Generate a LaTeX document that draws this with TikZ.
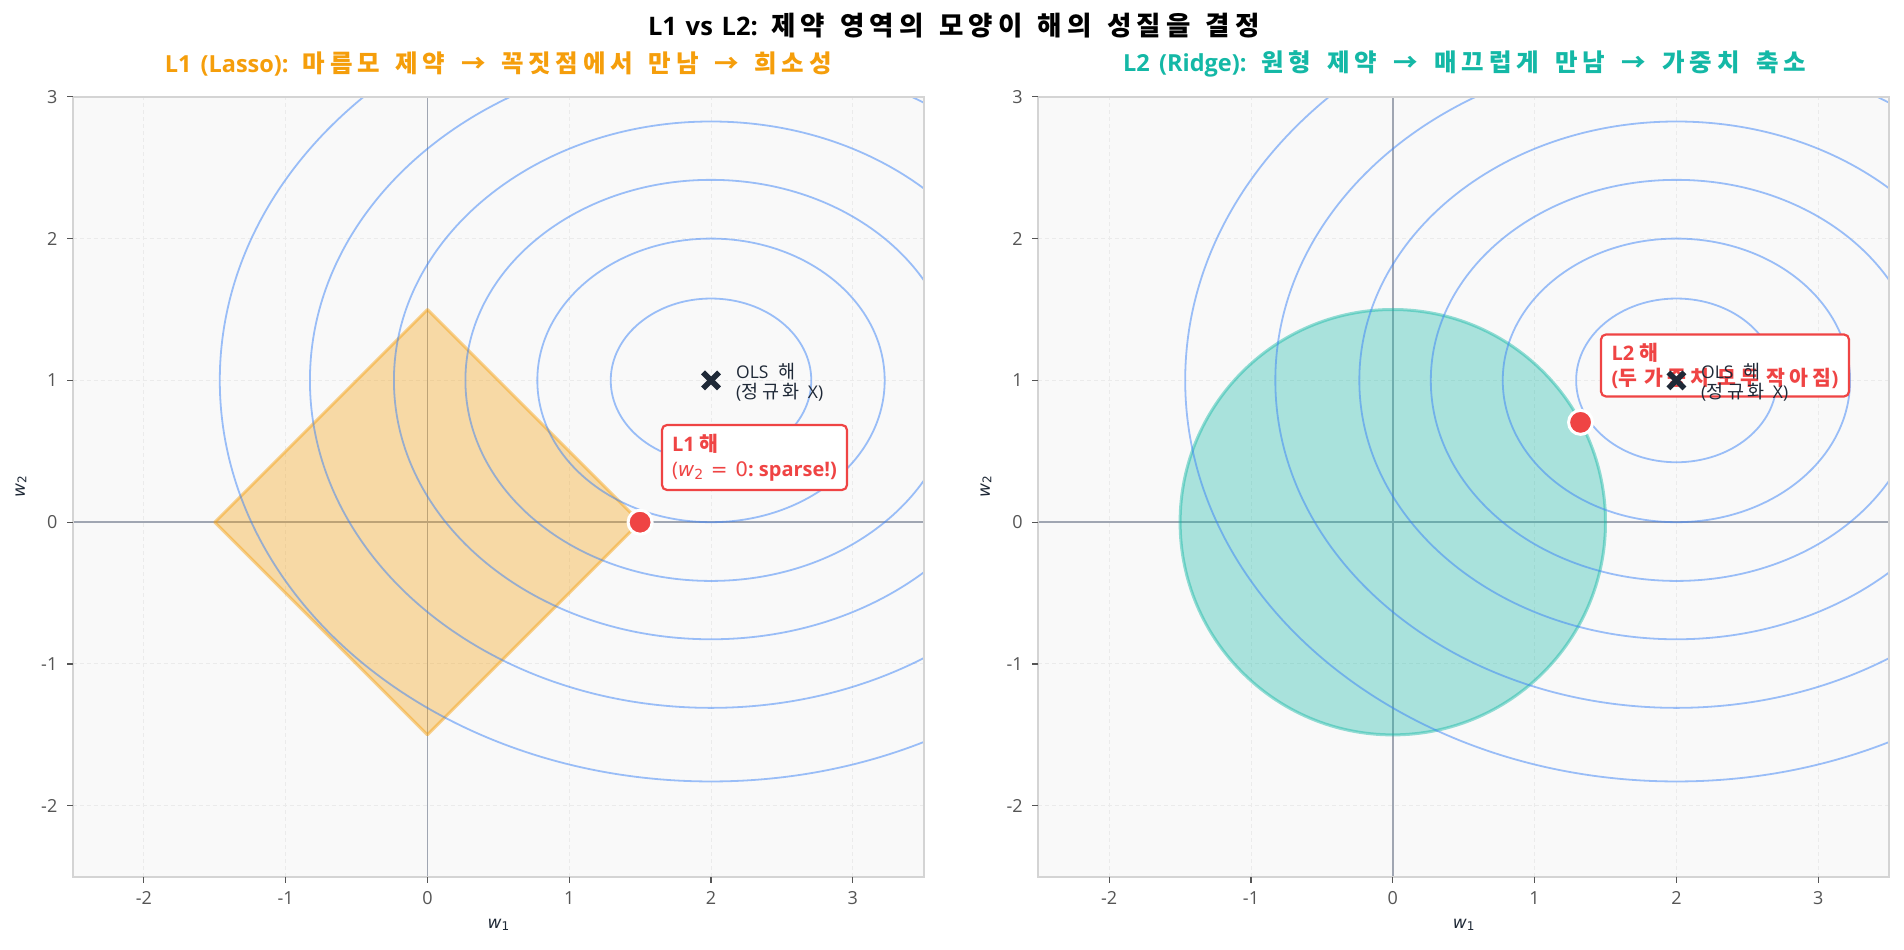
\documentclass[tikz,border=0pt]{standalone}
\usepackage{fontspec}
\setmainfont{Open Sans}
\newfontfamily\kr{Noto Sans CJK KR}[LetterSpace=20]
\newfontfamily\dvs{DejaVu Sans}
\usetikzlibrary{calc}
\definecolor{bgc}{HTML}{F9F9F9}
\definecolor{spinec}{HTML}{D4D4D4}
\definecolor{gridc}{HTML}{EBEBEB}
\definecolor{zeroc}{HTML}{A0A6B2}
\definecolor{contc}{HTML}{3B82F6}
\definecolor{orangec}{HTML}{F59E0B}
\definecolor{tealc}{HTML}{14B8A6}
\definecolor{redc}{HTML}{EF4444}
\definecolor{navyc}{HTML}{1F2937}
\definecolor{tickc}{HTML}{555555}
\newcommand\wsub[3]{{\dvs\fontsize{#2}{#2}\selectfont\itshape w\/}\raisebox{-0.3ex}{\dvs\fontsize{#3}{#3}\selectfont #1}}
\newcommand\fitw[2]{\makebox[#1][s]{#2}}
\newcommand\krs[2]{{\kr\fontsize{#1}{#1}\selectfont #2}}
\newcommand\sgap{\hspace{2pt plus 1fil}}
\begin{document}
\begin{tikzpicture}[x=1pt,y=1pt,
  gridline/.style={draw=gridc, line width=1pt, dash pattern=on 4pt off 3pt},
  zeroline/.style={draw=zeroc, line width=1.6pt},
  contour/.style={draw=contc, draw opacity=0.5, line width=1.8pt},
  spine/.style={draw=spinec, line width=1.8pt},
  tickmark/.style={draw=tickc, line width=1.2pt},
  ticklabel/.style={text=tickc, font=\fontsize{18}{20}\selectfont, inner sep=0pt},
  axlabel/.style={text=navyc, inner sep=0pt},
  soldot/.style={circle, fill=redc, draw=white, line width=3pt, minimum size=24pt, inner sep=0pt},
  annbox/.style={draw=redc, line width=2.2pt, fill=white, rounded corners=5pt, align=left, text=redc,
     font=\fontsize{20}{25}\selectfont\bfseries, inner xsep=6pt, inner ysep=4pt},
  olstext/.style={text=navyc, align=left, font=\fontsize{17.5}{20.5}\selectfont, inner sep=0pt, anchor=west},
  subtitle/.style={font=\fontsize{23.5}{28}\selectfont\bfseries, inner sep=0pt}
]
\useasboundingbox (0,0) rectangle (1904,950);
\fill[white] (0,0) rectangle (1904,950);

% title
\node[font=\fontsize{25.5}{30}\selectfont\bfseries, text=black, inner sep=0pt] (title) at (954,924)
  {\fitw{612pt}{L1 vs L2: \krs{26.5}{제약 영역의 모양이 해의 성질을 결정}}};
\node[subtitle, text=orangec] (subL) at (498.4,886)
  {\fitw{667pt}{L1 (Lasso): \krs{24.5}{마름모 제약 → 꼭짓점에서 만남 → 희소성}}};
\node[subtitle, text=tealc] (subR) at (1464.5,886)
  {\fitw{683pt}{L2 (Ridge): \krs{24.5}{원형 제약 → 매끄럽게 만남 → 가중치 축소}}};

% common axes parts
\foreach \ox/\nm in {427.4/L,1392.8/R}{
\begin{scope}[shift={(\ox,427.8)}, x=141.8pt, y=141.8pt]
  \fill[bgc] (-2.5,-2.5) rectangle (3.5,3);
  \foreach \g in {-2,...,3}{
    \draw[gridline] (\g,-2.5) -- (\g,3);
    \draw[gridline] (-2.5,\g) -- (3.5,\g);
  }
  \draw[zeroline] (0,-2.5) -- (0,3);
  \draw[zeroline] (-2.5,0) -- (3.5,0);
\end{scope}
}

% ---------- left panel ----------
\begin{scope}[shift={(427.4,427.8)}, x=141.8pt, y=141.8pt]
  \filldraw[fill=orangec, fill opacity=0.35, draw=orangec, draw opacity=0.45, line width=3pt, line join=round]
     (1.5,0) -- (0,1.5) -- (-1.5,0) -- (0,-1.5) -- cycle;
  \begin{scope}
    \clip (-2.5,-2.5) rectangle (3.5,3);
    \foreach \lv in {0.5,1.5,3,5,8,12}
      \draw[contour] (2,1) ellipse [x radius={sqrt(\lv)}, y radius={sqrt(\lv/1.5)}];
  \end{scope}
  \draw[spine] (-2.5,-2.5) rectangle (3.5,3);
  \foreach \t in {-2,...,3}{
    \draw[tickmark] (\t,-2.5) -- ++(0,-6pt) node[ticklabel, below=8pt] (xtL\t) {\t};
    \draw[tickmark] (-2.5,\t) -- ++(-6pt,0) node[ticklabel, left=9pt] (ytL\t) {\t};
  }
  \coordinate (olsL) at (2,1);
  \draw[navyc, line width=5.5pt] ($(olsL)+(-8pt,-8pt)$) -- ($(olsL)+(8pt,8pt)$);
  \draw[navyc, line width=5.5pt] ($(olsL)+(-8pt,8pt)$) -- ($(olsL)+(8pt,-8pt)$);
  \node[soldot] (l1dot) at (1.5,0) {};
\end{scope}
\node[olstext] (olsLtxt) at (736,568) {\fitw{59pt}{OLS \krs{18.5}{해}}\\\fitw{87pt}{(\krs{18.5}{정규화} X)}};
\node[annbox, minimum width=185pt, minimum height=65pt] (l1box) at (754.5,492.5)
  {L1 \krs{20.5}{해}\\\fitw{165pt}{\textmd{(\wsub{2}{20}{14}\sgap{\dvs\fontsize{20}{25}\selectfont=}\sgap{\dvs\fontsize{20}{25}\selectfont 0}}:~sparse!)}};

% ---------- right panel ----------
\begin{scope}[shift={(1392.8,427.8)}, x=141.8pt, y=141.8pt]
  \filldraw[fill=tealc, fill opacity=0.35, draw=tealc, draw opacity=0.45, line width=3pt]
     (0,0) circle [radius=1.5];
  \begin{scope}
    \clip (-2.5,-2.5) rectangle (3.5,3);
    \foreach \lv in {0.5,1.5,3,5,8,12}
      \draw[contour] (2,1) ellipse [x radius={sqrt(\lv)}, y radius={sqrt(\lv/1.5)}];
  \end{scope}
  \draw[spine] (-2.5,-2.5) rectangle (3.5,3);
  \foreach \t in {-2,...,3}{
    \draw[tickmark] (\t,-2.5) -- ++(0,-6pt) node[ticklabel, below=8pt] (xtR\t) {\t};
    \draw[tickmark] (-2.5,\t) -- ++(-6pt,0) node[ticklabel, left=9pt] (ytR\t) {\t};
  }
  \node[soldot] (l2dot) at (1.324,0.704) {};
  \coordinate (olsR) at (2,1);
\end{scope}
\node[annbox, minimum width=248pt, minimum height=62pt] (l2box) at (1725,584.5)
  {L2 \krs{20.5}{해}\\\fitw{227pt}{(\krs{20.5}{두 가중치 모두 작아짐})}};
\draw[navyc, line width=5.5pt] ($(olsR)+(-8pt,-8pt)$) -- ($(olsR)+(8pt,8pt)$);
\draw[navyc, line width=5.5pt] ($(olsR)+(-8pt,8pt)$) -- ($(olsR)+(8pt,-8pt)$);
\node[olstext] (olsRtxt) at (1701,568) {\fitw{59pt}{OLS \krs{18.5}{해}}\\\fitw{87pt}{(\krs{18.5}{정규화} X)}};

% axis labels
\node[axlabel] (xlabL) at (498.4,25) {\wsub{1}{17}{12}};
\node[axlabel] (xlabR) at (1463.7,25) {\wsub{1}{17}{12}};
\node[axlabel, rotate=90] (ylabL) at (21,463) {\wsub{2}{17}{12}};
\node[axlabel, rotate=90] (ylabR) at (986,463) {\wsub{2}{17}{12}};
\end{tikzpicture}
\end{document}
